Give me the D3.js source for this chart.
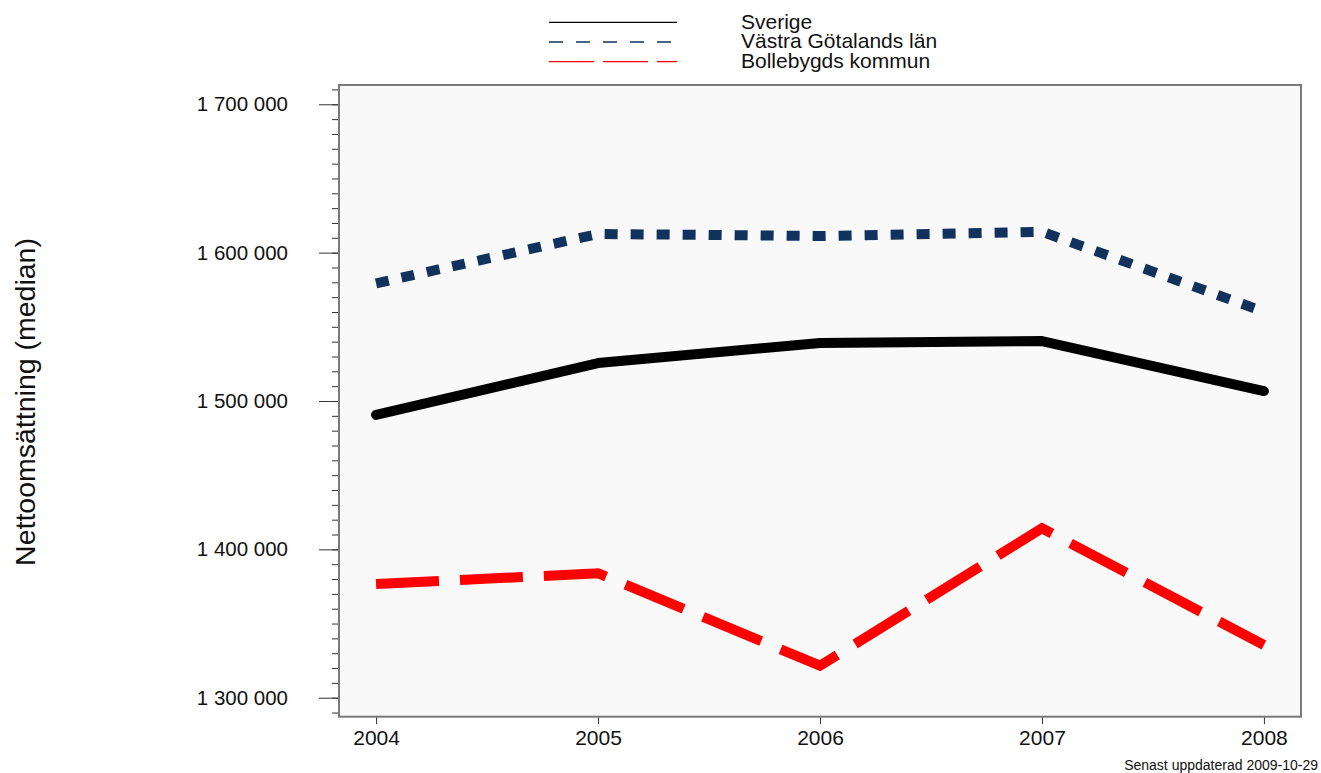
<!DOCTYPE html>
<html>
<head>
<meta charset="utf-8">
<script src="https://cdn.jsdelivr.net/npm/d3@7"></script>
<style>
  html, body { margin: 0; padding: 0; background: #ffffff; }
  svg { display: block; font-family: "Liberation Sans", Arial, sans-serif; }
</style>
</head>
<body>
<svg id="chart" width="1321" height="773"></svg>
<script>
const years = ["2004", "2005", "2006", "2007", "2008"];
const sverige = [1490600, 1525600, 1539100, 1540400, 1506700];
const vastra = [1579300, 1612600, 1611200, 1614100, 1560200];
const bollebygd = [1376600, 1383900, 1321600, 1414200, 1335500];
const yMajorTicks = [1300000, 1400000, 1500000, 1600000, 1700000];
const seriesNames = ["Sverige", "Västra Götalands län", "Bollebygds kommun"];
const yTitle = "Nettoomsättning (median)";
const footer = "Senast uppdaterad 2009-10-29";

const series = [
  { name: seriesNames[0], values: sverige, color: "#000000", dash: null, cap: "round", width: 10, legendDash: null },
  { name: seriesNames[1], values: vastra, color: "#10325c", dash: "13,13", cap: "butt", width: 10, legendDash: "14,13" },
  { name: seriesNames[2], values: bollebygd, color: "#ff0000", dash: "63,21", cap: "butt", width: 10, legendDash: "45,9" }
];

const svg = d3.select("#chart");
const box = { left: 339, top: 85, right: 1301, bottom: 716.7 };

const x = d3.scalePoint().domain(years).range([box.left, box.right]).padding(0.167);
const y = d3.scaleLinear().domain([1287200, 1713000]).range([box.bottom, box.top]);

const locale = d3.formatLocale({ decimal: ",", thousands: " ", grouping: [3], currency: ["", " kr"] });
const fmt = locale.format(",d");

// plot background
svg.append("rect")
  .attr("x", box.left).attr("y", box.top)
  .attr("width", box.right - box.left).attr("height", box.bottom - box.top)
  .attr("fill", "#f9f9f9");

// minor ticks
const minorTicks = d3.range(1290000, 1710001, 10000);
svg.append("g")
  .attr("transform", `translate(${box.left},0)`)
  .call(d3.axisLeft(y).tickValues(minorTicks).tickSize(7).tickFormat(""))
  .call(g => g.select(".domain").remove())
  .call(g => g.selectAll("line").attr("stroke", "#333").attr("stroke-width", 1));

// major ticks
svg.append("g")
  .attr("transform", `translate(${box.left},0)`)
  .call(d3.axisLeft(y).tickValues(yMajorTicks).tickSize(20).tickPadding(31).tickFormat(fmt))
  .call(g => g.select(".domain").remove())
  .call(g => g.selectAll("line").attr("stroke", "#333").attr("stroke-width", 1))
  .call(g => g.selectAll("text").attr("font-size", "20.5px").attr("fill", "#111")
     .attr("font-family", "'Liberation Sans', Arial, sans-serif"));

// x axis
svg.append("g")
  .attr("transform", `translate(0,${box.bottom})`)
  .call(d3.axisBottom(x).tickSize(7.5).tickPadding(6))
  .call(g => g.select(".domain").remove())
  .call(g => g.selectAll("line").attr("stroke", "#333").attr("stroke-width", 1))
  .call(g => g.selectAll("text").attr("font-size", "21px").attr("fill", "#111")
     .attr("font-family", "'Liberation Sans', Arial, sans-serif"));

// lines
const line = d3.line().x((d, i) => x(years[i])).y(d => y(d));
series.forEach(s => {
  svg.append("path")
    .datum(s.values)
    .attr("d", line)
    .attr("fill", "none")
    .attr("stroke", s.color)
    .attr("stroke-width", s.width)
    .attr("stroke-linecap", s.cap)
    .attr("stroke-linejoin", s.cap === "round" ? "round" : "miter")
    .attr("stroke-dasharray", s.dash);
});

// frame
svg.append("rect")
  .attr("x", box.left).attr("y", box.top)
  .attr("width", box.right - box.left).attr("height", box.bottom - box.top)
  .attr("fill", "none").attr("stroke", "#7a7a7a").attr("stroke-width", 2);

// legend
const legend = svg.append("g");
series.forEach((s, i) => {
  const ly = 22.3 + i * 19.7;
  legend.append("line")
    .attr("x1", 549).attr("x2", 677).attr("y1", ly).attr("y2", ly)
    .attr("stroke", s.color).attr("stroke-width", 1.3)
    .attr("stroke-dasharray", s.legendDash);
  legend.append("text")
    .attr("x", 741).attr("y", ly + 6.3)
    .attr("font-size", "21px").attr("fill", "#111")
    .text(s.name);
});

// y title
svg.append("text")
  .attr("transform", "translate(35,402) rotate(-90)")
  .attr("text-anchor", "middle")
  .attr("font-size", "28.5px").attr("fill", "#111")
  .text(yTitle);

// footer
svg.append("text")
  .attr("x", 1318).attr("y", 770)
  .attr("text-anchor", "end")
  .attr("font-size", "14px").attr("fill", "#111")
  .text(footer);
</script>
</body>
</html>
